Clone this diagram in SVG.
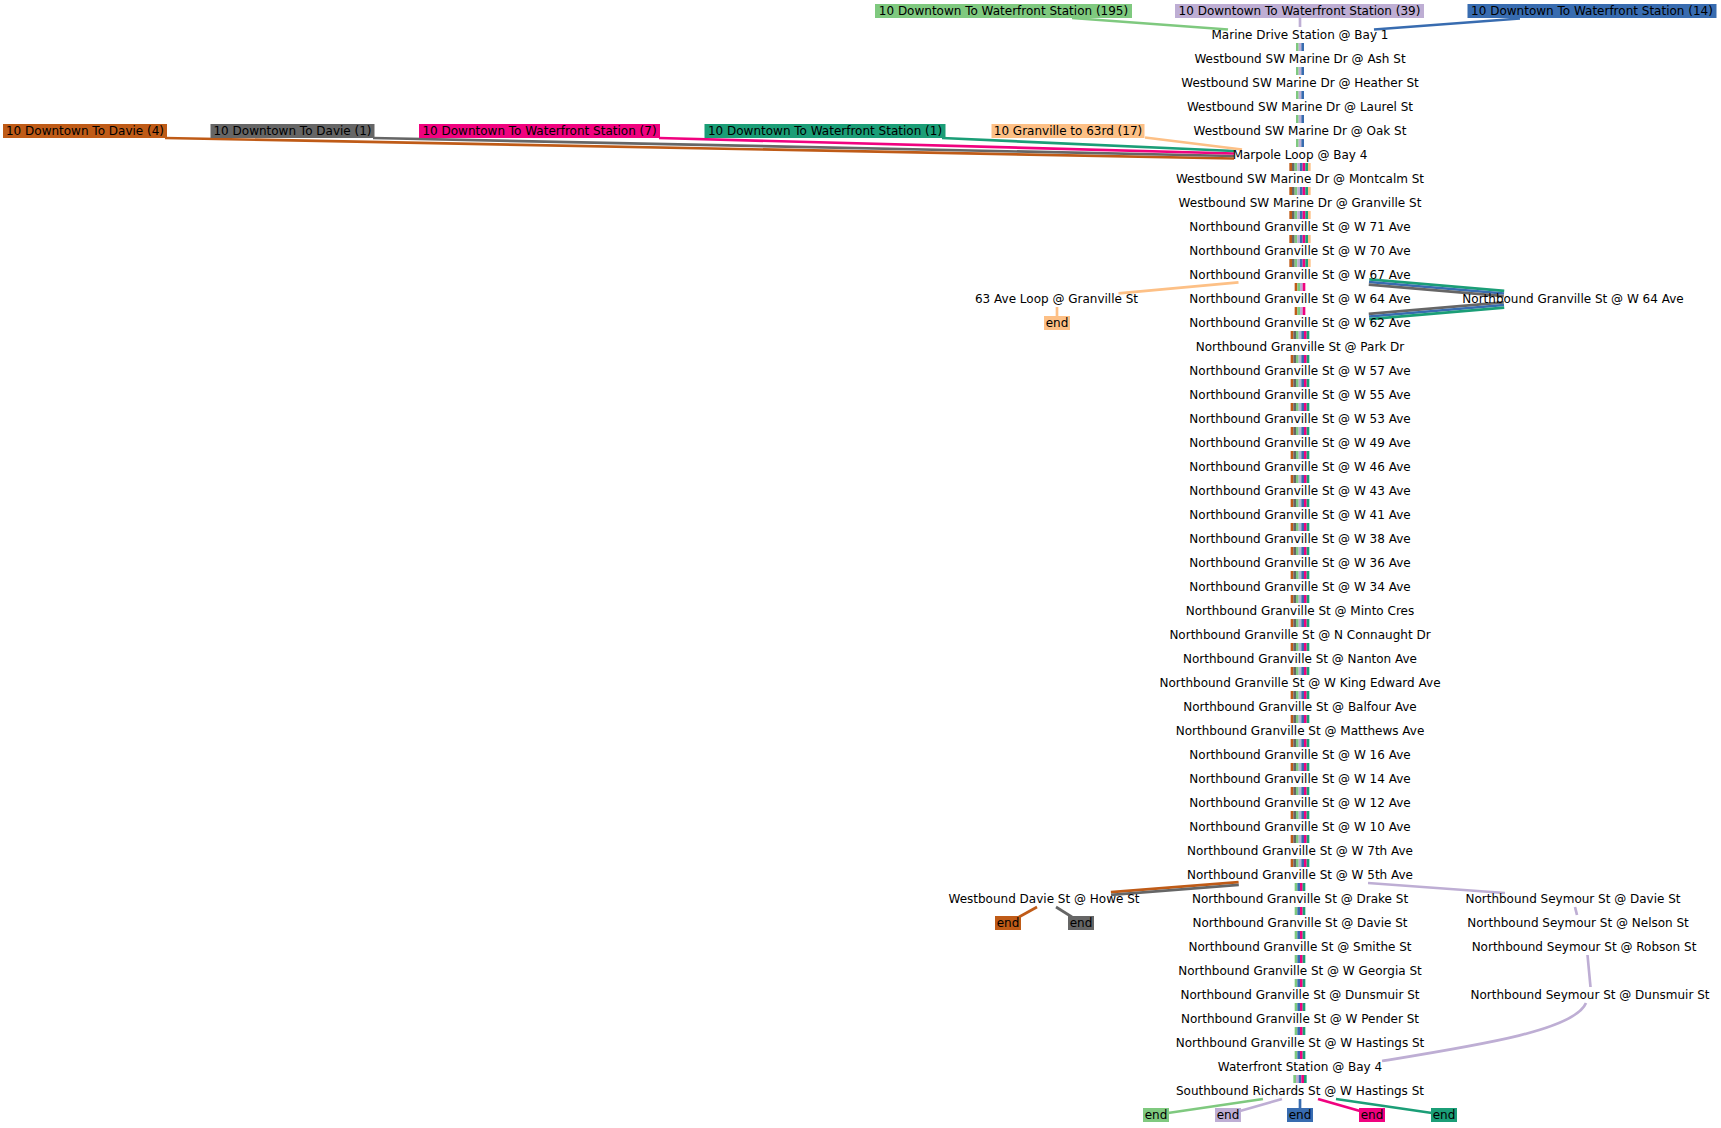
<svg xmlns="http://www.w3.org/2000/svg" width="1721" height="1128" viewBox="0 0 1721 1128">
<style>
.t{font-family:"DejaVu Sans",sans-serif;font-size:12px;text-anchor:middle;fill:#000}
.e{fill:none;stroke-width:2.667}
.v{fill:none;stroke-width:2.667;stroke-dasharray:8 16}
.or{stroke:#bf5b17}.gr{stroke:#666666}.gn{stroke:#7fc97f}.lv{stroke:#beaed4}.bl{stroke:#386cb0}.pk{stroke:#f0027f}.tl{stroke:#1b9e77}.pc{stroke:#fdc086}
.for{fill:#bf5b17}.fgr{fill:#666666}.fgn{fill:#7fc97f}.flv{fill:#beaed4}.fbl{fill:#386cb0}.fpk{fill:#f0027f}.ftl{fill:#1b9e77}.fpc{fill:#fdc086}
</style>
<rect width="1721" height="1128" fill="#fff"/>
<g id="connectors">
<!-- header edges -->
<path class="e gn" d="M1072,18 L1228,29.5"/>
<path class="e lv" d="M1300,18 L1300,27"/>
<path class="e bl" d="M1520,18.5 L1374,29.5"/>
<path class="e or" d="M165,138 L1234,158.5"/>
<path class="e gr" d="M373,138 L1234,156"/>
<path class="e pk" d="M659,138 L1234,153.5"/>
<path class="e tl" d="M942,138 L1234,151"/>
<path class="e pc" d="M1145,137.5 L1242,149.5"/>
<!-- main column bundles -->
<path class="v gn" d="M1297.33,43 V147"/>
<path class="v lv" d="M1300,43 V147"/>
<path class="v bl" d="M1302.67,43 V147"/>
<path class="v or" d="M1290.67,163 V267"/>
<path class="v gr" d="M1293.33,163 V267"/>
<path class="v gn" d="M1296,163 V267"/>
<path class="v lv" d="M1298.67,163 V267"/>
<path class="v bl" d="M1301.33,163 V267"/>
<path class="v pk" d="M1304,163 V267"/>
<path class="v tl" d="M1306.67,163 V267"/>
<path class="v pc" d="M1309.33,163 V267"/>
<path class="v or" d="M1296,283 V315"/>
<path class="v gn" d="M1298.67,283 V315"/>
<path class="v lv" d="M1301.33,283 V315"/>
<path class="v pk" d="M1304,283 V315"/>
<path class="v or" d="M1292,331 V867"/>
<path class="v gr" d="M1294.67,331 V867"/>
<path class="v gn" d="M1297.33,331 V867"/>
<path class="v lv" d="M1300,331 V867"/>
<path class="v bl" d="M1302.67,331 V867"/>
<path class="v pk" d="M1305.33,331 V867"/>
<path class="v tl" d="M1308,331 V867"/>
<path class="v gn" d="M1296,883 V1059"/>
<path class="v bl" d="M1298.67,883 V1059"/>
<path class="v pk" d="M1301.33,883 V1059"/>
<path class="v tl" d="M1304,883 V1059"/>
<path class="v gn" d="M1294.67,1075 V1083"/>
<path class="v lv" d="M1297.33,1075 V1083"/>
<path class="v bl" d="M1300,1075 V1083"/>
<path class="v pk" d="M1302.67,1075 V1083"/>
<path class="v tl" d="M1305.33,1075 V1083"/>
<!-- W64 detour -->
<path class="e tl" d="M1369.23,279.34 L1504.23,290.84"/>
<path class="e bl" d="M1369,282 L1504,293.5"/>
<path class="e gr" d="M1368.77,284.66 L1503.77,296.16"/>
<path class="e gr" d="M1503.77,302.34 L1368.77,313.84"/>
<path class="e bl" d="M1504,305 L1369,316.5"/>
<path class="e tl" d="M1504.23,307.66 L1369.23,319.16"/>
<!-- 63 Ave loop -->
<path class="e pc" d="M1238.5,282.3 L1118.5,293.3"/>
<path class="e pc" d="M1057,307 L1057,317"/>
<!-- Davie / Howe -->
<path class="e or" d="M1238.6,882.2 L1110.9,892.2"/>
<path class="e gr" d="M1238.8,884.8 L1111.1,894.8"/>
<path class="e or" d="M1037,907 L1019,917"/>
<path class="e gr" d="M1056,907 L1072,917"/>
<!-- Seymour -->
<path class="e lv" d="M1368,883 L1505,893"/>
<path class="e lv" d="M1575,907 L1577,915"/>
<path class="e lv" d="M1587.5,955 L1590.5,987"/>
<path class="e lv" d="M1586,1003 C1575,1030 1480,1045 1382,1061"/>
<!-- ends -->
<path class="e gn" d="M1263,1099 L1168,1113"/>
<path class="e lv" d="M1282,1099 L1240,1111"/>
<path class="e bl" d="M1300,1099 L1300,1108"/>
<path class="e pk" d="M1318,1099 L1360,1111"/>
<path class="e tl" d="M1336,1099 L1432,1113"/>
</g>
<g id="h-waterfront-195"><rect class="fgn" x="875" y="4" width="257" height="14"/><text class="t" x="1003.5" y="15">10 Downtown To Waterfront Station (195)</text></g>
<g id="h-waterfront-39"><rect class="flv" x="1175" y="4" width="249" height="14"/><text class="t" x="1299.5" y="15">10 Downtown To Waterfront Station (39)</text></g>
<g id="h-waterfront-14"><rect class="fbl" x="1467.5" y="4" width="249" height="14"/><text class="t" x="1592" y="15">10 Downtown To Waterfront Station (14)</text></g>
<g id="h-davie-4"><rect class="for" x="3" y="124" width="164" height="14"/><text class="t" x="85" y="135">10 Downtown To Davie (4)</text></g>
<g id="h-davie-1"><rect class="fgr" x="210.5" y="124" width="164" height="14"/><text class="t" x="292.5" y="135">10 Downtown To Davie (1)</text></g>
<g id="h-waterfront-7"><rect class="fpk" x="419" y="124" width="241" height="14"/><text class="t" x="539.5" y="135">10 Downtown To Waterfront Station (7)</text></g>
<g id="h-waterfront-1"><rect class="ftl" x="704.5" y="124" width="241" height="14"/><text class="t" x="825" y="135">10 Downtown To Waterfront Station (1)</text></g>
<g id="h-granville-63rd"><rect class="fpc" x="991.5" y="124" width="153" height="14"/><text class="t" x="1068" y="135">10 Granville to 63rd (17)</text></g>
<g id="n00"><text class="t" x="1300" y="39">Marine Drive Station @ Bay 1</text></g>
<g id="n01"><text class="t" x="1300" y="63">Westbound SW Marine Dr @ Ash St</text></g>
<g id="n02"><text class="t" x="1300" y="87">Westbound SW Marine Dr @ Heather St</text></g>
<g id="n03"><text class="t" x="1300" y="111">Westbound SW Marine Dr @ Laurel St</text></g>
<g id="n04"><text class="t" x="1300" y="135">Westbound SW Marine Dr @ Oak St</text></g>
<g id="n05"><text class="t" x="1300" y="159">Marpole Loop @ Bay 4</text></g>
<g id="n06"><text class="t" x="1300" y="183">Westbound SW Marine Dr @ Montcalm St</text></g>
<g id="n07"><text class="t" x="1300" y="207">Westbound SW Marine Dr @ Granville St</text></g>
<g id="n08"><text class="t" x="1300" y="231">Northbound Granville St @ W 71 Ave</text></g>
<g id="n09"><text class="t" x="1300" y="255">Northbound Granville St @ W 70 Ave</text></g>
<g id="n10"><text class="t" x="1300" y="279">Northbound Granville St @ W 67 Ave</text></g>
<g id="n11"><text class="t" x="1300" y="303">Northbound Granville St @ W 64 Ave</text></g>
<g id="n11b"><text class="t" x="1573" y="303">Northbound Granville St @ W 64 Ave</text></g>
<g id="n11c"><text class="t" x="1056.5" y="303">63 Ave Loop @ Granville St</text></g>
<g id="end-peach"><rect class="fpc" x="1044" y="316" width="26" height="14"/><text class="t" x="1057" y="327">end</text></g>
<g id="n12"><text class="t" x="1300" y="327">Northbound Granville St @ W 62 Ave</text></g>
<g id="n13"><text class="t" x="1300" y="351">Northbound Granville St @ Park Dr</text></g>
<g id="n14"><text class="t" x="1300" y="375">Northbound Granville St @ W 57 Ave</text></g>
<g id="n15"><text class="t" x="1300" y="399">Northbound Granville St @ W 55 Ave</text></g>
<g id="n16"><text class="t" x="1300" y="423">Northbound Granville St @ W 53 Ave</text></g>
<g id="n17"><text class="t" x="1300" y="447">Northbound Granville St @ W 49 Ave</text></g>
<g id="n18"><text class="t" x="1300" y="471">Northbound Granville St @ W 46 Ave</text></g>
<g id="n19"><text class="t" x="1300" y="495">Northbound Granville St @ W 43 Ave</text></g>
<g id="n20"><text class="t" x="1300" y="519">Northbound Granville St @ W 41 Ave</text></g>
<g id="n21"><text class="t" x="1300" y="543">Northbound Granville St @ W 38 Ave</text></g>
<g id="n22"><text class="t" x="1300" y="567">Northbound Granville St @ W 36 Ave</text></g>
<g id="n23"><text class="t" x="1300" y="591">Northbound Granville St @ W 34 Ave</text></g>
<g id="n24"><text class="t" x="1300" y="615">Northbound Granville St @ Minto Cres</text></g>
<g id="n25"><text class="t" x="1300" y="639">Northbound Granville St @ N Connaught Dr</text></g>
<g id="n26"><text class="t" x="1300" y="663">Northbound Granville St @ Nanton Ave</text></g>
<g id="n27"><text class="t" x="1300" y="687">Northbound Granville St @ W King Edward Ave</text></g>
<g id="n28"><text class="t" x="1300" y="711">Northbound Granville St @ Balfour Ave</text></g>
<g id="n29"><text class="t" x="1300" y="735">Northbound Granville St @ Matthews Ave</text></g>
<g id="n30"><text class="t" x="1300" y="759">Northbound Granville St @ W 16 Ave</text></g>
<g id="n31"><text class="t" x="1300" y="783">Northbound Granville St @ W 14 Ave</text></g>
<g id="n32"><text class="t" x="1300" y="807">Northbound Granville St @ W 12 Ave</text></g>
<g id="n33"><text class="t" x="1300" y="831">Northbound Granville St @ W 10 Ave</text></g>
<g id="n34"><text class="t" x="1300" y="855">Northbound Granville St @ W 7th Ave</text></g>
<g id="n35"><text class="t" x="1300" y="879">Northbound Granville St @ W 5th Ave</text></g>
<g id="n36"><text class="t" x="1300" y="903">Northbound Granville St @ Drake St</text></g>
<g id="n36a"><text class="t" x="1044" y="903">Westbound Davie St @ Howe St</text></g>
<g id="end-orange"><rect class="for" x="995" y="916" width="26" height="14"/><text class="t" x="1008" y="927">end</text></g>
<g id="end-gray"><rect class="fgr" x="1068" y="916" width="26" height="14"/><text class="t" x="1081" y="927">end</text></g>
<g id="n36b"><text class="t" x="1573" y="903">Northbound Seymour St @ Davie St</text></g>
<g id="n37b"><text class="t" x="1578" y="927">Northbound Seymour St @ Nelson St</text></g>
<g id="n38b"><text class="t" x="1584" y="951">Northbound Seymour St @ Robson St</text></g>
<g id="n40b"><text class="t" x="1590" y="999">Northbound Seymour St @ Dunsmuir St</text></g>
<g id="n37"><text class="t" x="1300" y="927">Northbound Granville St @ Davie St</text></g>
<g id="n38"><text class="t" x="1300" y="951">Northbound Granville St @ Smithe St</text></g>
<g id="n39"><text class="t" x="1300" y="975">Northbound Granville St @ W Georgia St</text></g>
<g id="n40"><text class="t" x="1300" y="999">Northbound Granville St @ Dunsmuir St</text></g>
<g id="n41"><text class="t" x="1300" y="1023">Northbound Granville St @ W Pender St</text></g>
<g id="n42"><text class="t" x="1300" y="1047">Northbound Granville St @ W Hastings St</text></g>
<g id="n43"><text class="t" x="1300" y="1071">Waterfront Station @ Bay 4</text></g>
<g id="n44"><text class="t" x="1300" y="1095">Southbound Richards St @ W Hastings St</text></g>
<g id="end-green"><rect class="fgn" x="1143" y="1108" width="26" height="14"/><text class="t" x="1156" y="1119">end</text></g>
<g id="end-lavender"><rect class="flv" x="1215" y="1108" width="26" height="14"/><text class="t" x="1228" y="1119">end</text></g>
<g id="end-blue"><rect class="fbl" x="1287" y="1108" width="26" height="14"/><text class="t" x="1300" y="1119">end</text></g>
<g id="end-pink"><rect class="fpk" x="1359" y="1108" width="26" height="14"/><text class="t" x="1372" y="1119">end</text></g>
<g id="end-teal"><rect class="ftl" x="1431" y="1108" width="26" height="14"/><text class="t" x="1444" y="1119">end</text></g>
</svg>
